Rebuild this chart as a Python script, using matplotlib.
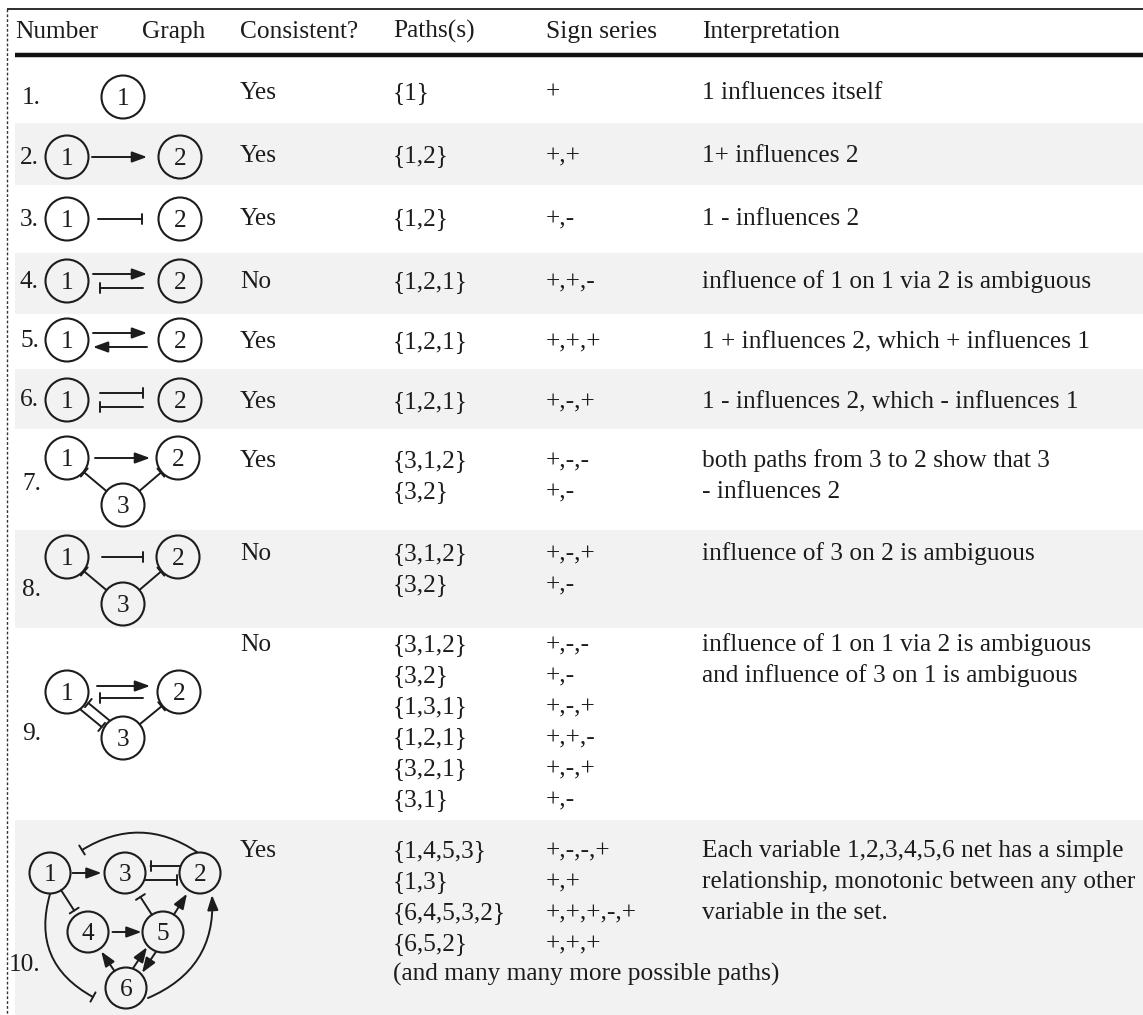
import matplotlib
matplotlib.use("Agg")
import matplotlib.pyplot as plt
from matplotlib.patches import Circle, FancyArrowPatch, Rectangle
import numpy as np

# ---------------- data ----------------
headers = ["Number", "Graph", "Consistent?", "Paths(s)", "Sign series", "Interpretation"]
numbers = ["1.", "2.", "3.", "4.", "5.", "6.", "7.", "8.", "9.", "10."]
consistent = ["Yes", "Yes", "Yes", "No", "Yes", "Yes", "Yes", "No", "No", "Yes"]
paths = [
    ["{1}"], ["{1,2}"], ["{1,2}"], ["{1,2,1}"], ["{1,2,1}"], ["{1,2,1}"],
    ["{3,1,2}", "{3,2}"],
    ["{3,1,2}", "{3,2}"],
    ["{3,1,2}", "{3,2}", "{1,3,1}", "{1,2,1}", "{3,2,1}", "{3,1}"],
    ["{1,4,5,3}", "{1,3}", "{6,4,5,3,2}", "{6,5,2}", "(and many many more possible paths)"],
]
signs = [
    ["+"], ["+,+"], ["+,-"], ["+,+,-"], ["+,+,+"], ["+,-,+"],
    ["+,-,-", "+,-"],
    ["+,-,+", "+,-"],
    ["+,-,-", "+,-", "+,-,+", "+,+,-", "+,-,+", "+,-"],
    ["+,-,-,+", "+,+", "+,+,+,-,+", "+,+,+"],
]
interpretations = [
    ["1 influences itself"],
    ["1+ influences 2"],
    ["1 - influences 2"],
    ["influence of 1 on 1 via 2 is ambiguous"],
    ["1 + influences 2, which + influences 1"],
    ["1 - influences 2, which - influences 1"],
    ["both paths from 3 to 2 show that 3", "- influences 2"],
    ["influence of 3 on 2 is ambiguous"],
    ["influence of 1 on 1 via 2 is ambiguous", "and influence of 3 on 1 is ambiguous"],
    ["Each variable 1,2,3,4,5,6 net has a simple",
     "relationship, monotonic between any other", "variable in the set."],
]

# graph topology per row: edges (source, target, kind)  '->' activation, '-|' inhibition
graph_nodes = [
    ["1"], ["1", "2"], ["1", "2"], ["1", "2"], ["1", "2"], ["1", "2"],
    ["1", "2", "3"], ["1", "2", "3"], ["1", "2", "3"],
    ["1", "2", "3", "4", "5", "6"],
]
graph_edges = [
    [],
    [("1", "2", "->")],
    [("1", "2", "-|")],
    [("1", "2", "->"), ("2", "1", "-|")],
    [("1", "2", "->"), ("2", "1", "->")],
    [("1", "2", "-|"), ("2", "1", "-|")],
    [("1", "2", "->"), ("3", "1", "-|"), ("3", "2", "-|")],
    [("1", "2", "-|"), ("3", "1", "-|"), ("3", "2", "-|")],
    [("1", "2", "->"), ("2", "1", "-|"), ("3", "1", "-|"), ("1", "3", "-|"), ("3", "2", "-|")],
    [("1", "3", "->"), ("2", "3", "-|"), ("3", "2", "-|"), ("2", "1", "-|"),
     ("1", "4", "-|"), ("4", "5", "->"), ("5", "3", "-|"), ("5", "2", "->"),
     ("6", "2", "->"), ("1", "6", "-|"), ("6", "4", "->"), ("6", "5", "->"), ("5", "6", "->")],
]

# ---------------- layout (pixels) ----------------
W, H = 1143, 1015
INK = "#1c1c1c"
GRAY = "#f2f2f2"
FONT = ["Liberation Serif", "DejaVu Serif"]
FS = 18.3
LINE = 31
R = 21.5

row_bounds = [(58, 123), (123, 185), (185, 253), (253, 314), (314, 369), (369, 429),
              (429, 530), (530, 628), (628, 820), (820, 1015)]
row_text_y = [91, 154, 217, 280, 340, 400, 459, 552, 643, 849]
num_y = [96, 156, 218, 280, 339, 398, 482, 588, 732, 963]
num_x = [22, 20, 20, 20, 20, 20, 22, 22, 22, 9]
col_x = [15, 142, 240, 393, 546, 702]

# node positions for each graph (absolute pixels)
pos = [
    {"1": (123, 97)},
    {"1": (67, 157), "2": (180, 157)},
    {"1": (67, 219), "2": (180, 219)},
    {"1": (67, 281), "2": (180, 281)},
    {"1": (67, 340), "2": (180, 340)},
    {"1": (67, 400), "2": (180, 400)},
    {"1": (67, 458), "2": (178, 458), "3": (123, 505)},
    {"1": (67, 557), "2": (178, 557), "3": (123, 604)},
    {"1": (67, 692), "2": (179, 692), "3": (123, 738)},
    {"1": (50, 873), "3": (125, 873), "2": (200, 873),
     "4": (88, 932), "5": (163, 932), "6": (126, 988)},
]
radius = [R] * 9 + [20.5]
# edge geometry per row: (offset, gapA, gapB, rad, explicit endpoints or None)
edge_geom = [
    [],
    [(0, 3.5, 11.5, 0, None)],
    [(0, 9.5, 16.5, 0, None)],
    [(-7, 4.5, 11.5, 0, None), (-7, 15.5, 11.5, 0, None)],
    [(-7, 4.5, 11.5, 0, None), (-7, 11.5, 4.5, 0, None)],
    [(-7, 11.5, 15.5, 0, None), (-7, 15.5, 11.5, 0, None)],
    [(0, 6.5, 6.5, 0, None), (0, 0, 1, 0, None), (0, 0, 1, 0, None)],
    [(0, 13.5, 13.5, 0, None), (0, 0, 1, 0, None), (0, 0, 1, 0, None)],
    [(-6, 8.5, 7.5, 0, None), (-6, 14.5, 11.5, 0, None), (5, 0, 2, 0, None),
     (5, 0, 2, 0, None), (0, 0, 1, 0, None)],
    [(0, 2, 3, 0, None), (7, 0, 5, 0, None), (7, 0, 3, 0, None),
     (0, 0, 0, 0.32, ((197, 852), (82, 850))),
     (0, 0, 5, 0, None), (0, 4, 1, 0, None), (0, 0, 8, 0, None), (0, 0, 4, 0, None),
     (0, 0, 0, 0.35, ((148, 998), (212, 895))),
     (0, 0, 0, 0.4, ((50, 894), (93, 997))),
     (0, 0, 3, 0, None), (-5, 0, 1, 0, None), (-5, 0, 1, 0, None)],
]

fig = plt.figure(figsize=(W / 100, H / 100), dpi=100)
ax = fig.add_axes([0, 0, 1, 1])
ax.set_xlim(0, W)
ax.set_ylim(H, 0)
ax.axis("off")


def txt(x, y, s, **kw):
    ax.text(x, y + 8, s, fontsize=FS, family=FONT, color=INK, ha="left", va="baseline", **kw)


# shaded bands
for i, (y0, y1) in enumerate(row_bounds):
    if i % 2 == 1:
        ax.add_patch(Rectangle((15, y0), W - 15, y1 - y0, color=GRAY, lw=0, zorder=0))

# rules
ax.plot([7, W], [9, 9], color=INK, lw=1.3, solid_capstyle="butt")
ax.plot([15, W], [55, 55], color="#111111", lw=3.2, solid_capstyle="butt")
ax.plot([7, 7], [9, H], color="#333333", lw=1.0, ls=(0, (2, 1.5)))

# header
for x, h in zip(col_x, headers):
    txt(x, 30, h)

# table body
for i in range(10):
    y = row_text_y[i]
    txt(num_x[i], num_y[i], numbers[i])
    txt(col_x[2], y, consistent[i])
    for k, s in enumerate(paths[i]):
        txt(col_x[3], y + k * LINE, s)
    for k, s in enumerate(signs[i]):
        txt(col_x[4], y + k * LINE, s)
    for k, s in enumerate(interpretations[i]):
        txt(col_x[5], y + k * LINE, s)

# graphs
for i in range(10):
    P = pos[i]
    r = radius[i]
    for lab in graph_nodes[i]:
        cx, cy = P[lab]
        ax.add_patch(Circle((cx, cy), r, fill=False, ec=INK, lw=1.5, zorder=3))
        ax.text(cx, cy + 8, lab, fontsize=FS, family=FONT, color=INK,
                ha="center", va="baseline", zorder=4)
    for (a, b, kind), (off, ga, gb, rad, expl) in zip(graph_edges[i], edge_geom[i]):
        if expl is None:
            pa = np.array(P[a], float)
            pb = np.array(P[b], float)
            d = pb - pa
            u = d / np.hypot(*d)
            n = np.array([-u[1], u[0]])
            s = pa + u * (r + ga) + n * off
            e = pb - u * (r + gb) + n * off
        else:
            s, e = np.array(expl[0], float), np.array(expl[1], float)
        if kind == "->":
            style = "-|>,head_length=0.9,head_width=0.33"
        else:
            style = "-[,widthB=0.38,lengthB=0"
        ax.add_patch(FancyArrowPatch(tuple(s), tuple(e), arrowstyle=style,
                                     connectionstyle=f"arc3,rad={rad}",
                                     mutation_scale=10, lw=1.4, color=INK,
                                     shrinkA=0, shrinkB=0, zorder=2))

fig.savefig("out.png", dpi=100, facecolor="white")
